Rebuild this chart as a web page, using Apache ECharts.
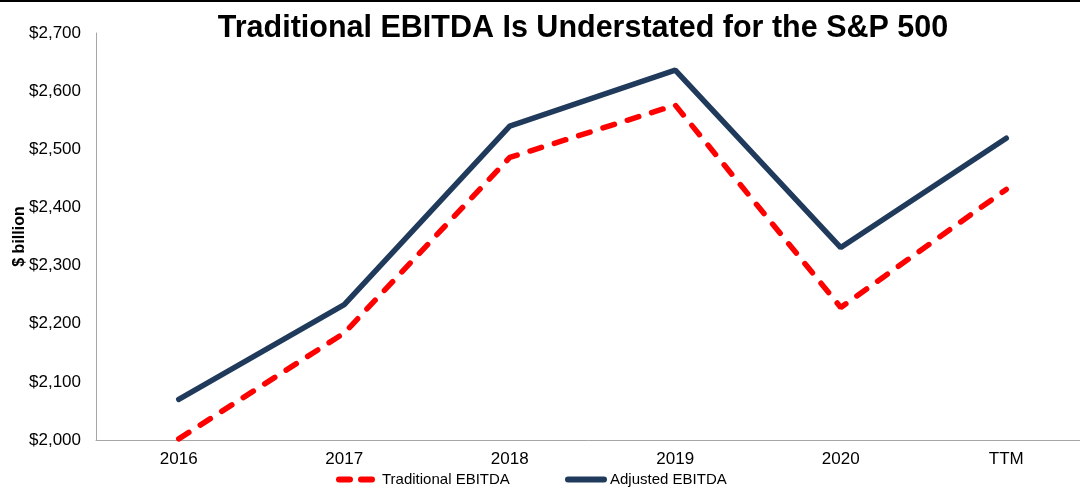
<!DOCTYPE html>
<html><head><meta charset="utf-8">
<script src="https://cdn.jsdelivr.net/npm/echarts@6/dist/echarts.min.js"></script>
<style>html,body{margin:0;padding:0;background:#fff}#c{width:1080px;height:489px;border-top:2px solid #000;box-sizing:border-box}</style>
</head><body><div id="c"></div>
<script>
const categories = ['2016','2017','2018','2019','2020','TTM'];
const traditional = [2002, 2184, 2486, 2576, 2228, 2431];
const adjusted = [2070, 2233, 2540, 2636, 2331, 2519];
const yTicks = [2000, 2700, 100];

const chart = echarts.init(document.getElementById('c'));
const F = 'Liberation Sans, Arial, sans-serif';
const legendText = {fontFamily: F, fontSize: 15, color: '#000'};
const dashIcon = 'path://M3,0H14A3,3 0 0 1 14,6H3A3,3 0 0 1 3,0Z M25,0H36A3,3 0 0 1 36,6H25A3,3 0 0 1 25,0Z';
const solidIcon = 'path://M3,0H39A3,3 0 0 1 39,6H3A3,3 0 0 1 3,0Z';
chart.setOption({
  animation: false,
  title: {text: 'Traditional EBITDA Is Understated for the S&P 500', left: 578, textAlign: 'center', top: 6,
    textStyle: {fontFamily: F, fontSize: 30.5, fontWeight: 'bold', color: '#000'}},
  legend: [
    {data: [{name: 'Traditional EBITDA', icon: dashIcon}], left: 331, top: 465, itemWidth: 39, itemHeight: 6,
      textStyle: Object.assign({padding: [0, 0, 0, 2]}, legendText)},
    {data: [{name: 'Adjusted EBITDA', icon: solidIcon}], left: 560, top: 465, itemWidth: 42, itemHeight: 6,
      textStyle: Object.assign({padding: [0, 0, 0, -2]}, legendText)}
  ],
  grid: {left: 96, right: -9, top: 31, bottom: 49, containLabel: false, outerBoundsMode: 'none'},
  xAxis: {type: 'category', data: categories, boundaryGap: true,
    axisLine: {lineStyle: {color: '#a6a6a6', width: 1}}, axisTick: {show: false},
    axisLabel: {fontFamily: F, fontSize: 17, color: '#000', margin: 11}},
  yAxis: {type: 'value', min: yTicks[0], max: yTicks[1], interval: yTicks[2],
    name: '$ billion', nameLocation: 'middle', nameGap: 68, nameRotate: 90, nameMoveOverlap: false,
    nameTextStyle: {fontFamily: F, fontSize: 16, fontWeight: 'bold', color: '#000'},
    axisLine: {show: true, lineStyle: {color: '#a6a6a6', width: 1}}, axisTick: {show: false},
    splitLine: {show: false},
    axisLabel: {fontFamily: F, fontSize: 17, color: '#000', margin: 15,
      formatter: v => '$' + v.toLocaleString('en-US')}},
  series: [
    {name: 'Traditional EBITDA', type: 'line', data: traditional, symbol: 'none',
      itemStyle: {color: '#ff0000'},
      lineStyle: {color: '#ff0000', width: 5.5, type: [12, 13.5], cap: 'round'}},
    {name: 'Adjusted EBITDA', type: 'line', data: adjusted, symbol: 'none',
      itemStyle: {color: '#203a5c'},
      lineStyle: {color: '#203a5c', width: 5.5, cap: 'round'}}
  ]
});
</script></body></html>
